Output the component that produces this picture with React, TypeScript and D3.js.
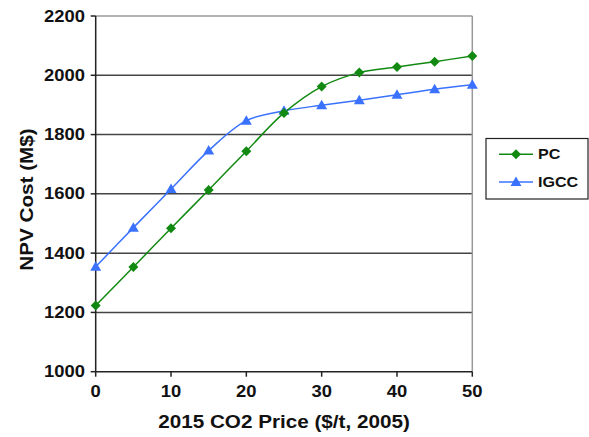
import React from "react";
import * as d3 from "d3";

const xValues = [0, 5, 10, 15, 20, 25, 30, 35, 40, 45, 50];
const pcValues = [1223, 1353, 1484, 1613, 1744, 1873, 1962, 2009, 2028, 2046, 2065];
const igccValues = [1354, 1486, 1616, 1746, 1847, 1880, 1899, 1916, 1934, 1953, 1968];
const xTicks = [0, 10, 20, 30, 40, 50];
const yTicks = [1000, 1200, 1400, 1600, 1800, 2000, 2200];
const seriesNames = ["PC", "IGCC"];

const W = 589, H = 437;
const left = 95.7, right = 472.3, top = 16, bottom = 371.7;
const font = "'Liberation Sans', Arial, sans-serif";
const SX = 1.15;

function T(props: { x: number; y: number; size: number; anchor?: string; rotate?: number; dy?: string; children: React.ReactNode }) {
  const { x, y, size, anchor = "start", rotate = 0, dy, children } = props;
  return (
    <text
      transform={`translate(${x},${y}) rotate(${rotate}) scale(${SX},1)`}
      textAnchor={anchor}
      dy={dy}
      fontFamily={font}
      fontWeight="bold"
      fontSize={size}
      fill="#111"
    >
      {children}
    </text>
  );
}

export default function App() {
  const x = d3.scaleLinear().domain([0, 50]).range([left, right]);
  const y = d3.scaleLinear().domain([1000, 2200]).range([bottom, top]);
  const line = d3.line<number>().curve(d3.curveCatmullRom.alpha(0.5));
  const pcPts = xValues.map((v, i) => [x(v), y(pcValues[i])] as [number, number]);
  const igPts = xValues.map((v, i) => [x(v), y(igccValues[i])] as [number, number]);
  const green = "#128a12";
  const blue = "#3a72ff";
  const diamond = (cx: number, cy: number, k: string) => (
    <path key={k} d={`M${cx},${cy - 5}L${cx + 5},${cy}L${cx},${cy + 5}L${cx - 5},${cy}Z`} fill={green} />
  );
  const tri = (cx: number, cy: number, k: string) => (
    <path key={k} d={`M${cx},${cy - 5.5}L${cx + 5.5},${cy + 4}L${cx - 5.5},${cy + 4}Z`} fill={blue} />
  );
  return (
    <svg width={W} height={H} style={{ position: "absolute", left: 0, top: 0, background: "#fff" }}>
      {yTicks.filter(t => t !== 1000).map(t => (
        <line key={t} x1={left} x2={right} y1={y(t)} y2={y(t)} stroke={t === 2200 ? "#999" : "#444"} strokeWidth={1.5} />
      ))}
      <line x1={right} x2={right} y1={top} y2={bottom} stroke="#999" strokeWidth={1.5} />
      <line x1={left} x2={left} y1={top} y2={bottom} stroke="#222" strokeWidth={1.5} />
      <line x1={left} x2={right} y1={bottom} y2={bottom} stroke="#222" strokeWidth={1.5} />
      {yTicks.map(t => (
        <g key={t}>
          <line x1={left - 5} x2={left} y1={y(t)} y2={y(t)} stroke="#222" strokeWidth={1.5} />
          <T x={85} y={y(t)} size={16} anchor="end" dy="0.35em">{t}</T>
        </g>
      ))}
      {xTicks.map(t => (
        <g key={t}>
          <line x1={x(t)} x2={x(t)} y1={bottom} y2={bottom + 5} stroke="#222" strokeWidth={1.5} />
          <T x={x(t)} y={397} size={16} anchor="middle">{t}</T>
        </g>
      ))}
      <T x={(left + right) / 2} y={428} size={18} anchor="middle">2015 CO2 Price ($/t, 2005)</T>
      <T x={33} y={199.5} size={18} anchor="middle" rotate={-90}>NPV Cost (M$)</T>
      <path d={line(igPts) || ""} fill="none" stroke={blue} strokeWidth={1.5} />
      <path d={line(pcPts) || ""} fill="none" stroke={green} strokeWidth={1.5} />
      {igPts.map((p, i) => tri(p[0], p[1], "t" + i))}
      {pcPts.map((p, i) => diamond(p[0], p[1], "d" + i))}
      <rect x={486} y={138.5} width={102} height={60.5} fill="#fff" stroke="#222" strokeWidth={1.2} />
      <line x1={499} x2={533} y1={154.3} y2={154.3} stroke={green} strokeWidth={1.5} />
      {diamond(516, 154.3, "ld")}
      <T x={538} y={154.3} size={14} dy="0.35em">{seriesNames[0]}</T>
      <line x1={499} x2={533} y1={182} y2={182} stroke={blue} strokeWidth={1.5} />
      {tri(516, 182, "lt")}
      <T x={538} y={182} size={14} dy="0.35em">{seriesNames[1]}</T>
    </svg>
  );
}
